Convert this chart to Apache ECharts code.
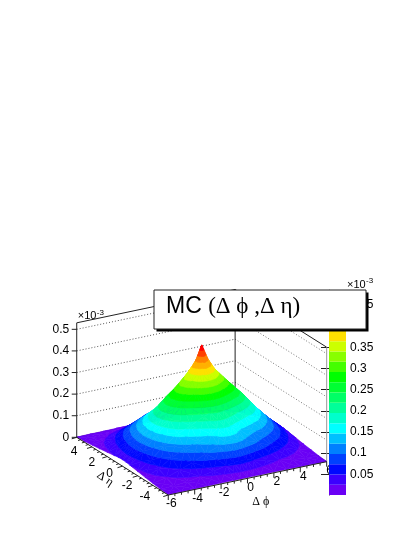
<!DOCTYPE html>
<html>
<head>
<meta charset="utf-8">
<style>html,body{margin:0;padding:0;background:#fff}#main{width:415px;height:537px}</style>
<script src="https://cdn.jsdelivr.net/npm/echarts@6/dist/echarts.min.js"></script>
</head>
<body>
<div id="main"></div>
<script>
// values (units of 10^-3), one quadrant, mirrored in both axes
var absPhi = [0, 0.5, 1, 2, 3, 4, 5, 6];
var absEta = [0, 0.5, 1, 2, 3, 4, 5, 6];
var zQuadrant = [
	[0.484, 0.410, 0.360, 0.290, 0.225, 0.150, 0.085, 0.030],
	[0.400, 0.375, 0.340, 0.280, 0.218, 0.145, 0.082, 0.029],
	[0.335, 0.325, 0.300, 0.255, 0.200, 0.138, 0.078, 0.026],
	[0.225, 0.220, 0.210, 0.180, 0.155, 0.112, 0.062, 0.020],
	[0.175, 0.170, 0.152, 0.130, 0.110, 0.080, 0.042, 0.014],
	[0.135, 0.130, 0.118, 0.095, 0.068, 0.045, 0.024, 0.009],
	[0.060, 0.057, 0.050, 0.036, 0.024, 0.014, 0.008, 0.004],
	[0.004, 0.004, 0.004, 0.004, 0.003, 0.002, 0.002, 0.001]
];
var zLevels = [0.0012, 0.0254, 0.0496, 0.0738, 0.098, 0.1222, 0.1464, 0.1706, 0.1948, 0.219, 0.2432,
	0.2674, 0.2916, 0.3158, 0.34, 0.3642, 0.3884, 0.4126, 0.4368, 0.461, 0.4852];
var bandColors = ['#6a00f5', '#3c00ff', '#0008ff', '#0040ff', '#0080ff', '#00c0ff', '#00ffff', '#00ffcc',
	'#00ff99', '#00ff66', '#00ff33', '#00ff00', '#44ff00', '#88ff00', '#ccff00', '#ffe000', '#ffb000',
	'#ff8000', '#ff4000', '#ff0000'];
var zTicks = [0, 0.1, 0.2, 0.3, 0.4, 0.5];
var phiLabels = [-6, -4, -2, 0, 2, 4, 6];
var etaLabels = [-4, -2, 0, 2, 4];
var zTop = 0.53;
var axisEnd = 6;

// projection of the 3D box on the page
var view = { x0: 201.7, y0: 449.5, phiX: 13.2, phiY: -2.78, etaX: -7.63, etaY: -4.81, zY: -216 };
function project(phi, eta, z) {
	return [view.x0 + phi * view.phiX + eta * view.etaX, view.y0 + phi * view.phiY + eta * view.etaY + z * view.zY];
}

function mirror(list) {
	return list.slice(1).reverse().map(function (v) { return -v; }).concat(list);
}
function mirrorRow(row) {
	return row.slice(1).reverse().concat(row);
}
var phiNodes = mirror(absPhi);
var etaNodes = mirror(absEta);
var zGrid = mirrorRow(zQuadrant).map(mirrorRow);

// cut a polygon of [phi, eta, z] points to lo <= z <= hi
function clipAbove(poly, level, sign) {
	var out = [];
	for (var i = 0; i < poly.length; i++) {
		var a = poly[i], b = poly[(i + 1) % poly.length];
		var da = (a[2] - level) * sign, db = (b[2] - level) * sign;
		if (da >= 0) out.push(a);
		if ((da >= 0) !== (db >= 0)) {
			var t = da / (da - db);
			out.push([a[0] + (b[0] - a[0]) * t, a[1] + (b[1] - a[1]) * t, level]);
		}
	}
	return out;
}

var surfacePolys = [];
function addTriangle(tri) {
	var zs = tri.map(function (p) { return p[2]; });
	var zMin = Math.min.apply(null, zs), zMax = Math.max.apply(null, zs);
	for (var k = 0; k < bandColors.length; k++) {
		var lo = k === 0 ? -1 : zLevels[k];
		var hi = k === bandColors.length - 1 ? 1 : zLevels[k + 1];
		if (zMax < lo || zMin > hi) continue;
		var poly = clipAbove(clipAbove(tri, lo, 1), hi, -1);
		if (poly.length > 2) surfacePolys.push({ band: k, points: poly });
	}
}
// back cells first, so the front ones paint over them
for (var i = etaNodes.length - 2; i >= 0; i--) {
	for (var j = phiNodes.length - 2; j >= 0; j--) {
		var A = [phiNodes[j], etaNodes[i], zGrid[i][j]];
		var B = [phiNodes[j + 1], etaNodes[i], zGrid[i][j + 1]];
		var C = [phiNodes[j + 1], etaNodes[i + 1], zGrid[i + 1][j + 1]];
		var D = [phiNodes[j], etaNodes[i + 1], zGrid[i + 1][j]];
		var M = [(A[0] + C[0]) / 2, (A[1] + C[1]) / 2, (A[2] + B[2] + C[2] + D[2]) / 4];
		addTriangle([C, D, M]);
		addTriangle([B, C, M]);
		addTriangle([D, A, M]);
		addTriangle([A, B, M]);
	}
}

function line(p, q, style) {
	return {
		type: 'line',
		shape: { x1: p[0], y1: p[1], x2: q[0], y2: q[1] },
		style: style
	};
}
function label(text, x, y, opt) {
	opt = opt || {};
	return {
		type: 'text',
		x: x, y: y,
		rotation: opt.rotation || 0,
		style: {
			text: text, x: 0, y: 0,
			fill: '#000',
			font: (opt.size || 12) + 'px ' + (opt.family || '"Liberation Sans"'),
			align: opt.align || 'center',
			verticalAlign: 'middle'
		}
	};
}

var gridStyle = { stroke: '#555', lineWidth: 1, lineDash: [1, 2] };
var sideGridStyle = { stroke: '#777', lineWidth: 1, lineDash: [1, 2] };
var frameStyle = { stroke: '#222', lineWidth: 1 };
var wallStyle = { stroke: '#999', lineWidth: 1 };
var axisStyle = { stroke: '#222', lineWidth: 1 };

function backFrame() {
	var kids = [];
	var e = axisEnd;
	zTicks.forEach(function (z) {
		if (z === 0) return;
		kids.push(line(project(-e, e, z), project(e, e, z), gridStyle));
		kids.push(line(project(e, e, z), project(e, -e, z), sideGridStyle));
	});
	kids.push(line(project(-e, e, 0), project(e, e, 0), frameStyle));
	kids.push(line(project(e, e, 0), project(e, -e, 0), frameStyle));
	kids.push(line(project(e, e, 0), project(e, e, zTop), frameStyle));
	kids.push(line(project(-e, e, zTop), project(e, e, zTop), frameStyle));
	kids.push(line(project(e, e, zTop), project(e, -e, zTop), frameStyle));
	kids.push(line(project(e, -e, 0), project(e, -e, zTop), wallStyle));
	return kids;
}

function frontAxes() {
	var kids = [];
	var e = axisEnd;
	kids.push(line(project(-e, e, 0), project(-e, e, zTop), axisStyle));
	kids.push(line(project(-e, e, 0), project(-e, -e, 0), axisStyle));
	kids.push(line(project(-e, -e, 0), project(e, -e, 0), axisStyle));
	var v, p, major;
	for (v = -6; v <= 6; v += 0.5) {
		major = v % 2 === 0;
		p = project(v, -e, 0);
		kids.push(line(p, [p[0], p[1] + (major ? 5 : 2.5)], axisStyle));
		p = project(-e, v, 0);
		kids.push(line(p, [p[0] - (major ? 5 : 2.5), p[1] + (major ? 1.5 : 0.8)], axisStyle));
	}
	zTicks.forEach(function (z) {
		p = project(-e, e, z);
		kids.push(line(p, [p[0] - 5, p[1]], axisStyle));
		kids.push(label(String(z), p[0] - 7.5, p[1], { align: 'right' }));
	});
	var top = project(-e, e, zTop);
	kids.push(label('×10', top[0] + 1, top[1] - 7, { align: 'left', size: 11 }));
	kids.push(label('-3', top[0] + 20, top[1] - 10, { align: 'left', size: 8 }));
	phiLabels.forEach(function (v) {
		p = project(v, -e, 0);
		kids.push(label(String(v), p[0] + 3, p[1] + 9));
	});
	etaLabels.forEach(function (v) {
		p = project(-e, v, 0);
		kids.push(label(String(v), p[0] - 13 - 1.2 * v, p[1] + 8 - 0.85 * v));
	});
	p = project(-e, -1, 0);
	kids.push(label('Δ η', p[0] - 25, p[1] + 8, { family: '"Liberation Serif"', size: 12, rotation: -0.6 }));
	p = project(1, -e, 0);
	kids.push(label('Δ ϕ', p[0], p[1] + 26, { family: '"Liberation Serif"', size: 12 }));
	return kids;
}

var option = {
	animation: false,
	title: {
		text: '{a|MC }{g|(Δ ϕ ,Δ η)}',
		left: 166,
		top: 292,
		padding: 0,
		z: 6,
		textStyle: {
			rich: {
				a: { fontFamily: 'Liberation Sans', fontWeight: 'normal', fontSize: 23, color: '#000', lineHeight: 30 },
				g: { fontFamily: 'Liberation Serif', fontWeight: 'normal', fontSize: 23, color: '#000', lineHeight: 30 }
			}
		}
	},
	grid: [
		{ left: 0, top: 0, width: 415, height: 537 },
		{ left: 329, top: 290, width: 17, bottom: 41.5 }
	],
	xAxis: [
		{ type: 'value', min: 0, max: 415, show: false, gridIndex: 0 },
		{ type: 'value', min: 0, max: 1, show: false, gridIndex: 1 }
	],
	yAxis: [
		{ type: 'value', min: 0, max: 537, inverse: true, show: false, gridIndex: 0 },
		{
			type: 'value', gridIndex: 1, position: 'right', min: 0, max: zLevels[zLevels.length - 1], interval: 0.05,
			splitLine: { show: false },
			axisLine: { show: true, lineStyle: { color: '#999' } },
			axisTick: { show: true, inside: true, length: 8, lineStyle: { color: '#222' } },
			axisLabel: { showMinLabel: false, showMaxLabel: false, margin: 4, color: '#000', fontFamily: 'Liberation Sans', fontSize: 12 }
		}
	],
	graphic: [
		{ type: 'text', left: 347, top: 279, style: { text: '×10', fill: '#000', font: '11px "Liberation Sans"' } },
		{ type: 'text', left: 366, top: 277, style: { text: '-3', fill: '#000', font: '8px "Liberation Sans"' } },
		{ type: 'rect', left: 156.5, top: 292.5, z: 5, shape: { width: 212, height: 39 }, style: { fill: '#000' } },
		{ type: 'rect', left: 153.5, top: 289.5, z: 5, shape: { width: 212, height: 39 }, style: { fill: '#fff', stroke: '#222', lineWidth: 1 } }
	],
	series: [
		{
			type: 'custom', name: 'frame', xAxisIndex: 0, yAxisIndex: 0, z: 1, silent: true, clip: false,
			data: [0],
			renderItem: function () {
				return { type: 'group', children: backFrame() };
			}
		},
		{
			type: 'custom', name: 'surface', xAxisIndex: 0, yAxisIndex: 0, z: 2, silent: true, clip: false,
			data: surfacePolys.map(function (p, idx) { return idx; }),
			renderItem: function (params, api) {
				var poly = surfacePolys[params.dataIndex];
				var pts = poly.points.map(function (p) {
					return api.coord(project(p[0], p[1], p[2]));
				});
				var color = bandColors[poly.band];
				return {
					type: 'polygon',
					shape: { points: pts },
					style: { fill: color, stroke: color, lineWidth: 0.6 }
				};
			}
		},
		{
			type: 'custom', name: 'axes', xAxisIndex: 0, yAxisIndex: 0, z: 3, silent: true, clip: false,
			data: [0],
			renderItem: function () {
				return { type: 'group', children: frontAxes() };
			}
		},
		{
			type: 'custom', name: 'palette', xAxisIndex: 1, yAxisIndex: 1, z: 4, silent: true,
			data: bandColors.map(function (c, k) { return [zLevels[k], zLevels[k + 1]]; }),
			renderItem: function (params, api) {
				var k = params.dataIndex;
				var a = api.coord([0, api.value(0)]);
				var b = api.coord([1, api.value(1)]);
				return {
					type: 'rect',
					shape: { x: a[0], y: b[1], width: b[0] - a[0], height: a[1] - b[1] },
					style: { fill: bandColors[k] }
				};
			}
		}
	]
};

var chart = echarts.init(document.getElementById('main'), null, { renderer: 'canvas' });
chart.setOption(option);
</script>
</body>
</html>
